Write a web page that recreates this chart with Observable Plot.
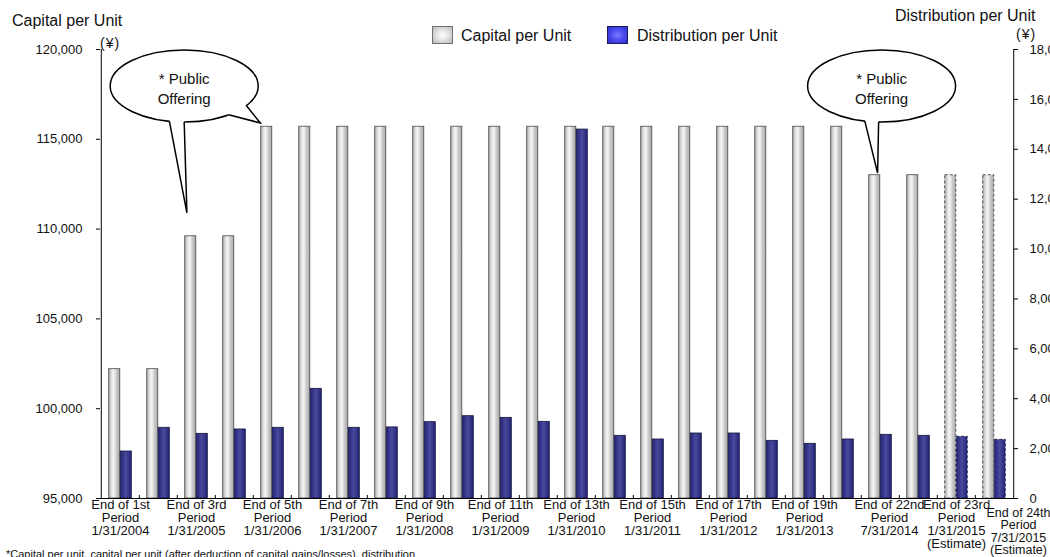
<!DOCTYPE html>
<html>
<head>
<meta charset="utf-8">
<script src="https://cdn.jsdelivr.net/npm/d3@7"></script>
<script src="https://cdn.jsdelivr.net/npm/@observablehq/plot@0.6"></script>
<style>
  html, body { margin: 0; padding: 0; background: #fff; overflow: hidden; }
  #wrap { position: relative; width: 1050px; height: 557px; font-family: "Liberation Sans", Arial, sans-serif; color: #111; overflow: hidden; }
  .lab { position: absolute; white-space: nowrap; line-height: 1; }
  .sw { position: absolute; width: 19px; height: 16px; }
  #chart { position: absolute; left: 0; top: 0; }
</style>
</head>
<body>
<div id="wrap">
  <div id="chart"></div>
  <div class="lab" style="left:12px;top:13px;font-size:16px;">Capital per Unit</div>
  <div class="lab" style="left:100px;top:36px;font-size:14px;letter-spacing:1px;">(¥)</div>
  <div class="lab" style="left:895px;top:8px;font-size:16px;">Distribution per Unit</div>
  <div class="lab" style="left:1016px;top:27px;font-size:14px;letter-spacing:1px;">(¥)</div>
  <div class="sw" style="left:432px;top:26px;border:1px solid #707070;background:radial-gradient(ellipse at center,#ffffff 0%,#e4e4e4 45%,#b8b8b8 100%);"></div>
  <div class="lab" style="left:461px;top:28px;font-size:16px;">Capital per Unit</div>
  <div class="sw" style="left:607px;top:26px;border:1px solid #1c1c5a;background:radial-gradient(ellipse at center,#7a7aff 0%,#4a4af0 50%,#2e2ec8 100%);"></div>
  <div class="lab" style="left:637px;top:28px;font-size:16px;">Distribution per Unit</div>
  <div class="lab" style="left:6px;top:549px;font-size:11px;">*Capital per unit, capital per unit (after deduction of capital gains/losses), distribution</div>
</div>
<script>
// ---- data ----
const periods = ["1","2","3","4","5","6","7","8","9","10","11","12","13","14","15","16","17","18","19","20","21","22","23","24"];
const capital = [102200,102200,109600,109600,115700,115700,115700,115700,115700,115700,115700,115700,115700,115700,115700,115700,115700,115700,115700,115700,113000,113000,113000,113000];
const distribution = [1884,2834,2593,2767,2834,4397,2834,2850,3060,3300,3234,3073,14790,2513,2366,2606,2606,2312,2192,2366,2553,2513,2473,2352];
const estimatePeriods = ["23","24"];
const xLabels = [
  "End of 1st\nPeriod\n1/31/2004", "",
  "End of 3rd\nPeriod\n1/31/2005", "",
  "End of 5th\nPeriod\n1/31/2006", "",
  "End of 7th\nPeriod\n1/31/2007", "",
  "End of 9th\nPeriod\n1/31/2008", "",
  "End of 11th\nPeriod\n1/31/2009", "",
  "End of 13th\nPeriod\n1/31/2010", "",
  "End of 15th\nPeriod\n1/31/2011", "",
  "End of 17th\nPeriod\n1/31/2012", "",
  "End of 19th\nPeriod\n1/31/2013", "",
  "",
  "End of 22nd\nPeriod\n7/31/2014",
  "End of 23rd\nPeriod\n1/31/2015\n(Estimate)",
  "End of 24th\nPeriod\n7/31/2015\n(Estimate)"
];
const leftTicks = [95000,100000,105000,110000,115000,120000];
const rightTicks = [0,2000,4000,6000,8000,10000,12000,14000,16000,18000];
const calloutText = ["* Public", "Offering"];

// ---- layout ----
const W = 1050, H = 557, mL = 96, mR = 32, mT = 49, mB = 59;
const plotW = W - mL - mR, plotH = H - mT - mB;
const bw = plotW / periods.length;
const Y0 = leftTicks[0], Y1 = leftTicks[leftTicks.length - 1];
const R1 = rightTicks[rightTicks.length - 1];
const K = (Y1 - Y0) / R1;
const toY = d => Y0 + d * K;
const fmt = d3.format(",");

const rows = periods.map((p, i) => ({period: p, capital: capital[i], dist: distribution[i], est: estimatePeriods.includes(p)}));
const actual = rows.filter(d => !d.est), est = rows.filter(d => d.est);
const barW = 11.5;
const FONT = "'Liberation Sans', Arial, sans-serif";

const grayOpts = {x: "period", y1: () => Y0, y2: "capital", fill: "url(#gGray)", stroke: "#4a4a4a", strokeWidth: 0.8, insetLeft: bw / 2 - barW, insetRight: bw / 2};
const blueOpts = {x: "period", y1: () => Y0, y2: d => toY(d.dist), fill: "url(#gBlue)", stroke: "#14143e", strokeWidth: 0.8, insetLeft: bw / 2, insetRight: bw / 2 - barW};

const labelFor = p => xLabels[periods.indexOf(p)];

const plot = Plot.plot({
  width: W, height: H,
  marginLeft: mL, marginRight: mR, marginTop: mT, marginBottom: mB,
  x: {type: "band", domain: periods, padding: 0, label: null},
  y: {domain: [Y0, Y1], label: null},
  style: {fontFamily: FONT, fontSize: "13px", color: "#111", background: "transparent"},
  marks: [
    Plot.barY(actual, grayOpts),
    Plot.barY(est, {...grayOpts, stroke: "#333", strokeDasharray: "3,2"}),
    Plot.barY(actual, blueOpts),
    Plot.barY(est, {...blueOpts, strokeDasharray: "3,2"}),
    // axis lines
    Plot.ruleX([periods[0]], {x: d => d, dx: -bw / 2, stroke: "#000"}),
    Plot.ruleX([periods[periods.length - 1]], {x: d => d, dx: bw / 2, stroke: "#000"}),
    Plot.ruleY([Y0], {stroke: "#000"}),
    // ticks
    Plot.ruleY(leftTicks, {insetRight: plotW - 4, stroke: "#000"}),
    Plot.ruleY(rightTicks.map(toY), {insetLeft: plotW - 4, stroke: "#000"}),
    Plot.ruleX(periods.slice(1), {x: d => d, dx: -bw / 2, insetTop: plotH - 3, stroke: "#000"}),
    // left axis
    Plot.axisY(leftTicks, {anchor: "left", tickSize: 0, tickPadding: 14, fontSize: 13, tickFormat: fmt, label: null}),
    // right axis (distribution)
    Plot.axisY(rightTicks.map(toY), {anchor: "right", tickSize: 0, tickPadding: 11, fontSize: 13, label: null,
      tickFormat: v => fmt(Math.round((v - Y0) / K))}),
    // category labels
    Plot.axisX({tickSize: 0, tickPadding: 1, fontSize: 13, lineHeight: 1, label: null,
      tickFormat: p => (p === "22" || p === "24") ? "" : labelFor(p)}),
    Plot.text(["22"], {x: d => d, text: labelFor, frameAnchor: "bottom", lineAnchor: "top", dx: -29, dy: 1, fontSize: 13, lineHeight: 1}),
    Plot.text(["24"], {x: d => d, text: labelFor, frameAnchor: "bottom", lineAnchor: "top", dx: 24, dy: 9.5, fontSize: 12.5, lineHeight: 1})
  ]
});

document.getElementById("chart").appendChild(plot);

// gradients
const svg = d3.select(plot);
const defs = svg.insert("defs", ":first-child");
const gg = defs.append("linearGradient").attr("id", "gGray").attr("x1", 0).attr("x2", 1).attr("y1", 0).attr("y2", 0);
[[0, "#a9a9a9"], [0.3, "#e8e8e8"], [0.45, "#f4f4f4"], [0.7, "#cbcbcb"], [1, "#a6a6a6"]].forEach(([o, c]) => gg.append("stop").attr("offset", o).attr("stop-color", c));
const gb = defs.append("linearGradient").attr("id", "gBlue").attr("x1", 0).attr("x2", 1).attr("y1", 0).attr("y2", 0);
[[0, "#222278"], [0.5, "#4a4a9c"], [1, "#222278"]].forEach(([o, c]) => gb.append("stop").attr("offset", o).attr("stop-color", c));

// callouts (annotations anchored via the plot's own scales)
const xs = plot.scale("x"), ys = plot.scale("y");
const px = (p, f) => xs.apply(p) + f * bw;
const py = v => ys.apply(v);
const rx = 74, ry = 36;
const callouts = [
  {cx: px("3", 0.187), cy: py(117940), tails: [
    {tip: [px("3", 0.258), py(110870)], a1: 101.5, a2: 90},
    {tip: [px("5", 0.19), py(115880)], a1: 32.9, a2: 53}
  ]},
  {cx: px("21", 0.536), cy: py(117940), tails: [
    {tip: [px("21", 0.432), py(113096)], a1: 103.1, a2: 92.3}
  ]}
];
const cg = svg.append("g").attr("font-family", FONT);
for (const c of callouts) {
  cg.append("ellipse").attr("cx", c.cx).attr("cy", c.cy).attr("rx", rx).attr("ry", ry)
    .attr("fill", "#fff").attr("stroke", "#000").attr("stroke-width", 1.5);
  for (const t of c.tails) {
    const pt = a => [c.cx + rx * Math.cos(a * Math.PI / 180), c.cy + ry * Math.sin(a * Math.PI / 180)];
    const b1 = pt(t.a1), b2 = pt(t.a2);
    cg.append("path").attr("d", `M${c.cx},${c.cy}L${b1}L${t.tip}L${b2}Z`).attr("fill", "#fff").attr("stroke", "none");
    cg.append("path").attr("d", `M${b1}L${t.tip}L${b2}`).attr("fill", "none").attr("stroke", "#000").attr("stroke-width", 1.5).attr("stroke-linejoin", "miter");
  }
  cg.append("text").attr("x", c.cx).attr("y", c.cy - 1.7).attr("text-anchor", "middle").attr("font-size", 15).text(calloutText[0]);
  cg.append("text").attr("x", c.cx).attr("y", c.cy + 18).attr("text-anchor", "middle").attr("font-size", 15).text(calloutText[1]);
}
</script>
</body>
</html>
